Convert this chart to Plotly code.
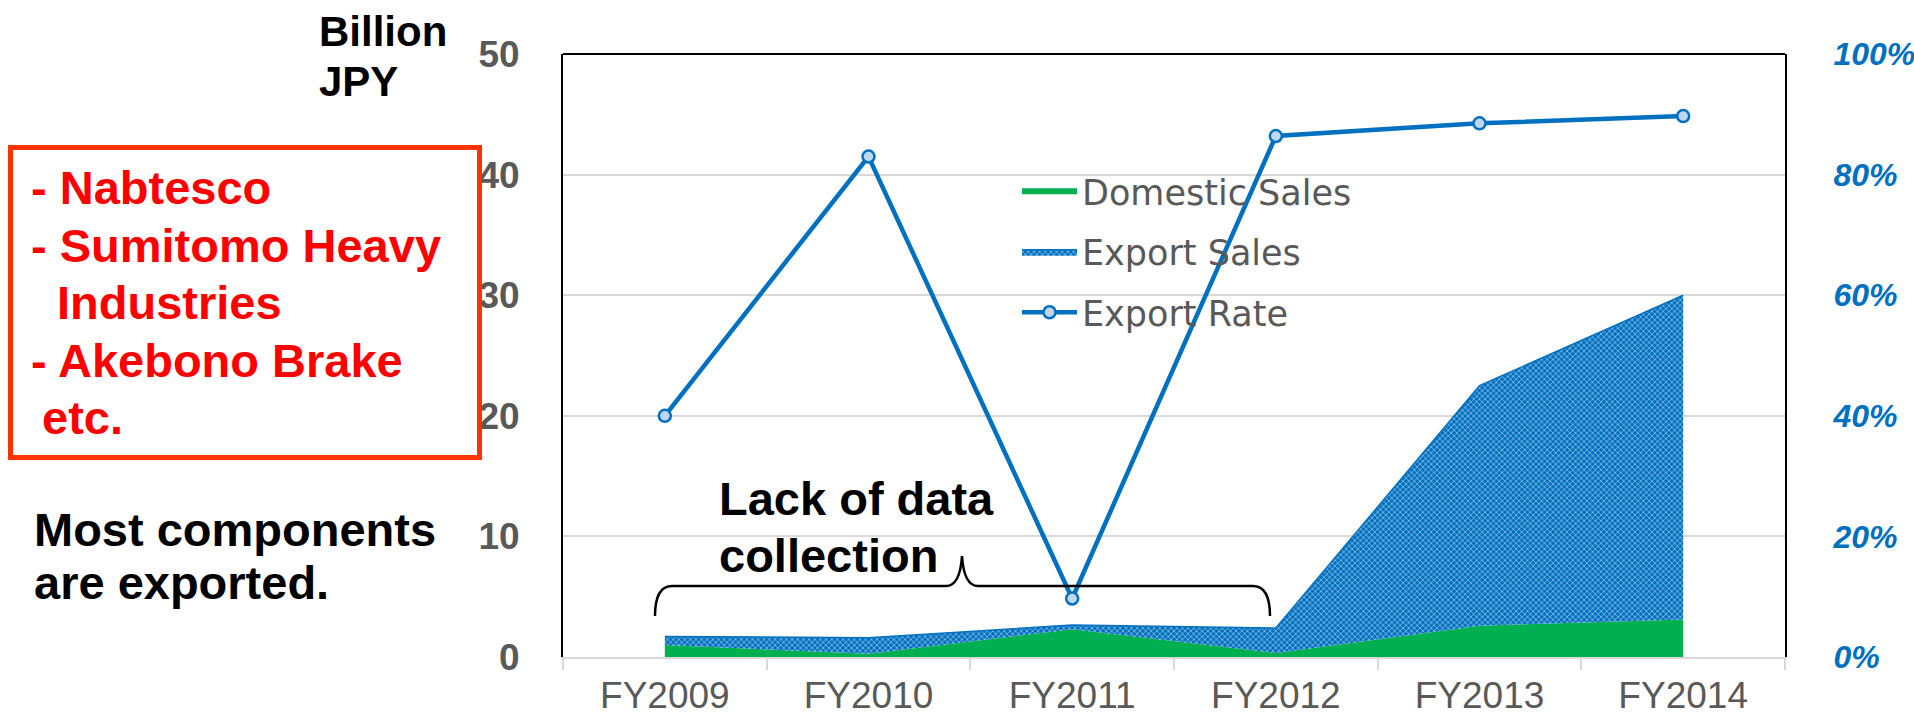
import plotly.graph_objects as go

# data (Billion JPY / export rate)
years = ["FY2009", "FY2010", "FY2011", "FY2012", "FY2013", "FY2014"]
domestic_sales = [1.0, 0.27, 2.3, 0.33, 2.6, 3.1]
export_sales = [0.7, 1.33, 0.35, 2.07, 19.9, 26.9]
export_rate = [0.40, 0.83, 0.097, 0.864, 0.885, 0.897]

W, H = 1914, 720
L, R, T, B = 563, 1785, 54, 657  # plot area, pixels


def px(x):
    return (x - L) / (R - L)


def py(y):
    return (B - y) / (B - T)


fig = go.Figure()

fig.add_trace(go.Scatter(
    x=years, y=domestic_sales, name="Domestic Sales",
    stackgroup="one", mode="none", fillcolor="#00B050",
    legendgroup="a"))

fig.add_trace(go.Scatter(
    x=years, y=export_sales, name="Export Sales",
    stackgroup="one", mode="lines", line=dict(color="#0070C0", width=1.5),
    fillpattern=dict(shape="x", size=4, solidity=0.4, fgcolor="white", bgcolor="#0070C0"),
    legendgroup="b"))

fig.add_trace(go.Scatter(
    x=years, y=export_rate, name="Export Rate", yaxis="y2",
    mode="lines+markers",
    line=dict(color="#0070C0", width=4.5),
    marker=dict(symbol="circle", size=12, color="#BDD7EE", line=dict(color="#0070C0", width=2.5)),
    legendgroup="c"))

# Plot Aesthetics
fig.update_layout(
    width=W, height=H, autosize=False,
    margin=dict(l=L, r=W - R, t=T, b=H - B),
    paper_bgcolor="white", plot_bgcolor="white",
    font=dict(family="Liberation Sans, Arial, sans-serif"),
    xaxis=dict(
        type="category", range=[-0.5, 5.5], automargin=False,
        showline=True, linecolor="#d9d9d9", linewidth=2,
        ticks="outside", tickson="boundaries", ticklen=11, tickcolor="#d9d9d9", tickwidth=2,
        ticklabelstandoff=5,
        tickfont=dict(size=37, color="#595959", family="Liberation Sans, Arial"),
        showgrid=False),
    yaxis=dict(
        range=[0, 50], dtick=10, automargin=False,
        showgrid=True, gridcolor="#d9d9d9", gridwidth=2,
        showline=True, linecolor="black", linewidth=2,
        ticks="", ticklabelstandoff=34, zeroline=False,
        tickfont=dict(size=37, color="#595959", family="Liberation Sans, Arial", weight="bold")),
    yaxis2=dict(
        overlaying="y", side="right", range=[0, 1], dtick=0.2, tickformat=".0%",
        automargin=False, showgrid=False, zeroline=False,
        showline=True, linecolor="black", linewidth=2,
        ticks="", ticklabelstandoff=40,
        tickfont=dict(size=32, color="#0070C0", family="Liberation Sans, Arial",
                      weight="bold", style="italic")),
    legend=dict(
        x=px(1017), y=py(162), xanchor="left", yanchor="top",
        traceorder="grouped", tracegroupgap=12, itemwidth=55,
        bgcolor="rgba(0,0,0,0)",
        font=dict(size=35, color="#595959", family="DejaVu Sans, sans-serif")),
    showlegend=True,
)

# top border of plot area
fig.add_shape(type="line", xref="paper", yref="paper", x0=0, x1=1, y0=1, y1=1,
              line=dict(color="black", width=2))

# red box round the company names
fig.add_shape(type="rect", xref="paper", yref="paper",
              x0=px(10.5), x1=px(479.5), y0=py(147.5), y1=py(457.5),
              line=dict(color="#FF3300", width=5))

# brace under "Lack of data collection"
pts = [(655, 616), (655, 586), (672, 586), (946, 586), (960, 586), (962, 556),
       (964, 586), (978, 586), (1253, 586), (1270, 586), (1270, 616)]
p = [(px(a), py(b)) for a, b in pts]
path = ("M {0[0]},{0[1]} Q {1[0]},{1[1]} {2[0]},{2[1]} L {3[0]},{3[1]} "
        "Q {4[0]},{4[1]} {5[0]},{5[1]} Q {6[0]},{6[1]} {7[0]},{7[1]} "
        "L {8[0]},{8[1]} Q {9[0]},{9[1]} {10[0]},{10[1]}").format(*p)
fig.add_shape(type="path", xref="paper", yref="paper", path=path,
              line=dict(color="black", width=2.5))


def note(text, x, y, color="black", size=47):
    fig.add_annotation(text=text, xref="paper", yref="paper", x=px(x - 3), y=py(y),
                       xanchor="left", yanchor="middle", showarrow=False,
                       font=dict(size=size, color=color, family="Liberation Sans, Arial",
                                 weight="bold"))


note("Billion", 320, 32, size=42)
note("JPY", 320, 81, size=42)

red = "#FF0000"
note("- Nabtesco", 32, 187, red)
note("- Sumitomo Heavy", 32, 245, red)
note("Industries", 58, 302, red)
note("- Akebono Brake", 32, 360, red)
note("etc.", 43, 418, red)

note("Most components", 35, 529)
note("are exported.", 35, 582)

note("Lack of data", 720, 498)
note("collection", 720, 555)

# page body has a default 8px margin; drop it so the figure fills the window
fig.write_html("out.html", config={"displayModeBar": False},
               post_script="document.body.style.margin='0px';")
